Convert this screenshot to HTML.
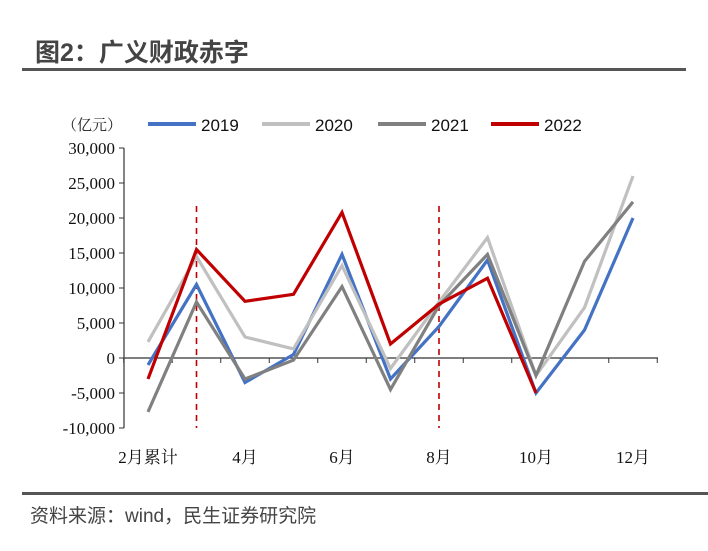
<!DOCTYPE html>
<html><head><meta charset="utf-8"><style>
body{margin:0;background:#fff;width:708px;height:546px;overflow:hidden;font-family:"Liberation Sans","Noto Sans CJK SC",sans-serif}
</style></head><body>
<svg width="708" height="546" xmlns="http://www.w3.org/2000/svg">
<text x="35" y="61" font-size="25" font-weight="bold" fill="#444" font-family="Liberation Sans,Noto Sans CJK SC,sans-serif">图2：广义财政赤字</text>
<rect x="22" y="68" width="664" height="3" fill="#555"/>
<rect x="22" y="492" width="686" height="3" fill="#555"/>
<text x="30" y="522" font-size="19" fill="#444">资料来源：wind，民生证券研究院</text>
<text x="62" y="130" font-size="15" fill="#222" font-family="Liberation Serif,Noto Serif CJK SC,serif">（亿元）</text>
<g id="legend"></g>
<g id="axes"></g>
<g id="series"></g>
</svg>
<script>
const categories=["2月累计","3月","4月","5月","6月","7月","8月","9月","10月","11月","12月"];
const s2019=[-1000,10500,-3500,500,14800,-3000,4500,14000,-5000,4000,20000];
const s2020=[2300,14500,3000,1300,13200,-1500,8000,17200,-2500,7200,26000];
const s2021=[-7700,8000,-3000,-300,10200,-4500,7500,14800,-2500,13800,22300];
const s2022=[-3000,15500,8100,9100,20800,2000,7700,11400,-5000];
const yTicks=[30000,25000,20000,15000,10000,5000,0,-5000,-10000];
const yTickLabels=["30,000","25,000","20,000","15,000","10,000","5,000","0","-5,000","-10,000"];
const markerCats=[1,6];
const NS="http://www.w3.org/2000/svg";
const x=i=>148+i*48.5, y=v=>358-v*0.007;
function mk(t,a,p){const e=document.createElementNS(NS,t);for(const k in a)e.setAttribute(k,a[k]);(p||document.getElementById('axes')).appendChild(e);return e;}
let e=mk('line',{x1:124,y1:148,x2:124,y2:428,stroke:'#333','stroke-width':1.2});


yTicks.forEach((v,i)=>{
 mk('line',{x1:119,y1:y(v),x2:124,y2:y(v),stroke:'#333'});
 const t=mk('text',{x:115,y:y(v)+6,'text-anchor':'end','font-size':17,fill:'#111','font-family':'Liberation Serif,serif'});
 t.textContent=yTickLabels[i];
 
 
});
e=mk('line',{x1:124,y1:y(0),x2:658,y2:y(0),stroke:'#333','stroke-width':1.2});


for(let i=0;i<=categories.length;i++){mk('line',{x1:x(i)-24.25,y1:y(0),x2:x(i)-24.25,y2:y(0)+5,stroke:'#333'});}
categories.forEach((c,i)=>{if(i%2)return;
 const t=mk('text',{x:x(i),y:463,'text-anchor':'middle','font-size':17,fill:'#111','font-family':'Liberation Serif,Noto Serif CJK SC,serif'});
 t.textContent=c;
 
 
});
markerCats.forEach(i=>{
 const l=mk('line',{x1:x(i),y1:206,x2:x(i),y2:428,stroke:'#c00000','stroke-width':1.6,'stroke-dasharray':'6,5'});
 
 
});
const series=[["2019",s2019,"#4472c4"],["2020",s2020,"#c0c0c0"],["2021",s2021,"#808080"],["2022",s2022,"#c00000"]];
const sg=document.getElementById('series'),lg=document.getElementById('legend');
const lx=[148,262,378,491];
series.forEach((s,k)=>{
 const p=mk('polyline',{points:s[1].map((v,i)=>x(i)+','+y(v)).join(' '),fill:'none',stroke:s[2],'stroke-width':3.2,'stroke-linejoin':'miter'},sg);
 
 
 const g=mk('g',{},lg);
 
 
 mk('line',{x1:lx[k],y1:124,x2:lx[k]+48,y2:124,stroke:s[2],'stroke-width':4},g);
 const t=mk('text',{x:lx[k]+53,y:131,'font-size':17,fill:'#111'},g);t.textContent=s[0];
});
</script>
</body></html>
